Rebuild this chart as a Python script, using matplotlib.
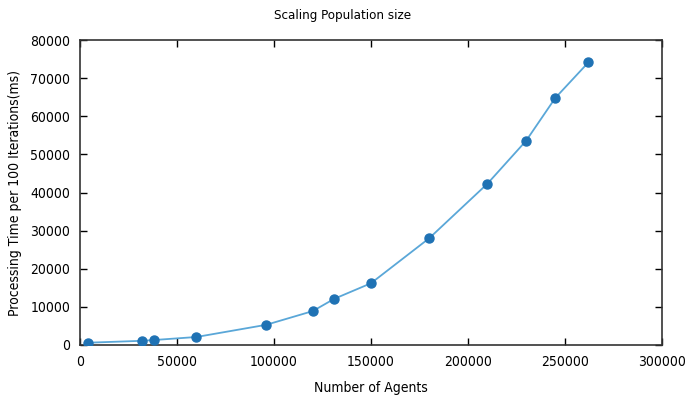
import matplotlib
matplotlib.use("Agg")
import matplotlib.pyplot as plt

agents = [4000, 32000, 38000, 60000, 96000, 120000, 131000, 150000, 180000, 210000, 230000, 245000, 262000]
time_ms = [600, 1100, 1300, 2100, 5300, 8900, 12100, 16200, 28000, 42300, 53600, 64800, 74100]
xticks = [0, 50000, 100000, 150000, 200000, 250000, 300000]
yticks = [0, 10000, 20000, 30000, 40000, 50000, 60000, 70000, 80000]

plt.rcParams['font.family'] = ['DejaVu Sans']
plt.rcParams['font.stretch'] = 'condensed'
fig = plt.figure(figsize=(6.86, 3.97), dpi=100)
ax = fig.add_axes([80/686, 52/397, 582/686, 305/397])
ax.plot(agents, time_ms, color='#5aa7d8', lw=1.3, zorder=2)
ax.plot(agents, time_ms, 'o', color='#1f72b4', ms=6.5, zorder=3)
ax.set_xlim(0, 300000)
ax.set_ylim(0, 80000)
ax.set_xticks(xticks)
ax.set_yticks(yticks)
ax.tick_params(direction='in', top=True, right=True, length=5, width=1, labelsize=10, pad=7)
for s in ax.spines.values():
    s.set_linewidth(1.2)
    s.set_color('#333333')
fig.text(0.5, 1 - 15/397, 'Scaling Population size', fontsize=9.5, ha='center', va='center')
ax.set_xlabel('Number of Agents', fontsize=10, labelpad=9)
ax.set_ylabel('Processing Time per 100 Iterations(ms)', fontsize=10, labelpad=6)
fig.savefig('out.png', dpi=100)
